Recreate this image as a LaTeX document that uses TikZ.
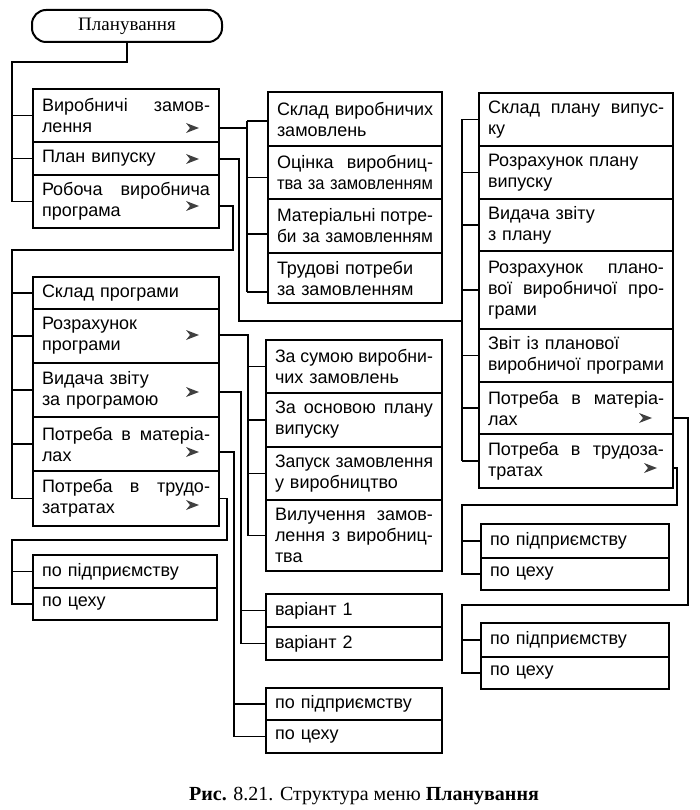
\documentclass[tikz,border=0pt]{standalone}
\usepackage{fontspec}
\setmainfont{Liberation Serif}
\newfontfamily\cellfam{Liberation Sans}
\usepackage{graphicx}
\usetikzlibrary{calc}

\newsavebox\fitb
\newlength\cellwd
% justified line: words separated by \hfill; squeezed if too wide
\newcommand\jline[1]{\leavevmode\sbox\fitb{\def\hfill{\hskip.28em}#1}%
  \ifdim\wd\fitb>\cellwd\resizebox{\cellwd}{\ht\fitb}{\usebox\fitb}%
  \else\hbox to\cellwd{\def\hfill{\hskip.28em plus 1fill}#1}\fi}
% left line, squeezed if too wide
\newcommand\lline[1]{\sbox\fitb{#1}\ifdim\wd\fitb>\cellwd\resizebox{\cellwd}{\ht\fitb}{\usebox\fitb}\else\makebox[\cellwd][l]{#1}\fi}

\tikzset{
  cell/.style={draw, line width=2pt, anchor=north west, inner xsep=8pt, inner ysep=0pt,
    align=left, font=\cellfam\fontsize{18}{21}\selectfont},
  conn/.style={draw, line width=1.9pt, line join=miter},
  submark/.pic={\fill[black!75] (-6,-5) -- (7,0) -- (-6,5) -- (-2,0) -- cycle;}
}
% name, x, ytop, ybot, width, text
\newcommand\mkcell[6]{%
  \pgfmathsetmacro\cellh{#4-#3}%
  \pgfmathsetmacro\celltw{#5-18}%
  \setlength\cellwd{\celltw pt}%
  \node[cell, minimum width=#5pt, minimum height=\cellh pt, text width=\celltw pt] (#1) at (#2,#3) {#6};}

\begin{document}
\begin{tikzpicture}[x=1pt,y=-1pt]
\useasboundingbox (0,0) rectangle (700,810);

% top
\node[draw, line width=2pt, rounded corners=14pt, minimum width=190pt, minimum height=32pt,
  font=\fontsize{19}{21}\selectfont] (top) at (127,26) {Планування};

% box 1
\mkcell{b1r1}{32}{88}{141}{186}{\jline{Виробничі\hfill замов-}\\\lline{лення}}
\mkcell{b1r2}{32}{141}{174}{186}{\lline{План випуску}}
\mkcell{b1r3}{32}{174}{227}{186}{\jline{Робоча\hfill виробнича}\\\lline{програма}}

% box 2
\mkcell{b2r1}{267}{91}{145}{174}{\lline{Склад виробничих}\\\lline{замовлень}}
\mkcell{b2r2}{267}{145}{198}{174}{\jline{Оцінка\hfill виробниц-}\\\lline{тва за замовленням}}
\mkcell{b2r3}{267}{198}{252}{174}{\jline{Матеріальні\hfill потре-}\\\lline{би за замовленням}}
\mkcell{b2r4}{267}{252}{302}{174}{\lline{Трудові потреби}\\\lline{за замовленням}}

% box 3
\mkcell{b3r1}{478}{92}{145}{194}{\jline{Склад\hfill плану\hfill випус-}\\\lline{ку}}
\mkcell{b3r2}{478}{145}{198}{194}{\lline{Розрахунок плану}\\\lline{випуску}}
\mkcell{b3r3}{478}{198}{250}{194}{\lline{Видача звіту}\\\lline{з плану}}
\mkcell{b3r4}{478}{250}{328}{194}{\jline{Розрахунок\hfill плано-}\\\jline{вої\hfill виробничої\hfill про-}\\\lline{грами}}
\mkcell{b3r5}{478}{328}{381}{194}{\lline{Звіт із планової}\\\lline{виробничої програми}}
\mkcell{b3r6}{478}{381}{433}{194}{\jline{Потреба\hfill в\hfill матеріа-}\\\lline{лах}}
\mkcell{b3r7}{478}{433}{487}{194}{\jline{Потреба\hfill в\hfill трудоза-}\\\lline{тратах}}

% box 4
\mkcell{b4r1}{32}{276}{308}{186}{\lline{Склад програми}}
\mkcell{b4r2}{32}{308}{362}{186}{\lline{Розрахунок}\\\lline{програми}}
\mkcell{b4r3}{32}{362}{416}{186}{\lline{Видача звіту}\\\lline{за програмою}}
\mkcell{b4r4}{32}{416}{470}{186}{\jline{Потреба\hfill в\hfill матеріа-}\\\lline{лах}}
\mkcell{b4r5}{32}{470}{525}{186}{\jline{Потреба\hfill в\hfill трудо-}\\\lline{затратах}}

% box 5
\mkcell{b5r1}{265}{339}{392}{176}{\jline{За\hfill сумою\hfill виробни-}\\\lline{чих замовлень}}
\mkcell{b5r2}{265}{392}{446}{176}{\jline{За\hfill основою\hfill плану}\\\lline{випуску}}
\mkcell{b5r3}{265}{446}{499}{176}{\lline{Запуск замовлення}\\\lline{у виробництво}}
\mkcell{b5r4}{265}{499}{570}{176}{\jline{Вилучення\hfill замов-}\\\jline{лення\hfill з\hfill виробниц-}\\\lline{тва}}

% box 6
\mkcell{b6r1}{32}{554}{587}{184}{\lline{по підприємству}}
\mkcell{b6r2}{32}{587}{619}{184}{\lline{по цеху}}
% box 7
\mkcell{b7r1}{265}{593}{626}{176}{\lline{варіант 1}}
\mkcell{b7r2}{265}{626}{659}{176}{\lline{варіант 2}}
% box 8
\mkcell{b8r1}{265}{687}{719}{176}{\lline{по підприємству}}
\mkcell{b8r2}{265}{719}{752}{176}{\lline{по цеху}}
% box 9
\mkcell{b9r1}{480}{523}{557}{188}{\lline{по підприємству}}
\mkcell{b9r2}{480}{557}{589}{188}{\lline{по цеху}}
% box 10
\mkcell{b10r1}{480}{622}{656}{188}{\lline{по підприємству}}
\mkcell{b10r2}{480}{656}{688}{188}{\lline{по цеху}}

% submenu marks
\coordinate (m11) at (192,128);
\coordinate (m12) at (192,159);
\coordinate (m13) at (192,206);
\coordinate (m42) at (192,335);
\coordinate (m43) at (192,392);
\coordinate (m44) at (192,452);
\coordinate (m45) at (192,505);
\coordinate (m36) at (645,418);
\coordinate (m37) at (650,468);
\foreach \m in {m11,m12,m13,m42,m43,m44,m45,m36,m37} {\pic at (\m) {submark};}

% bracket x positions and joints
\coordinate (k1) at (12,62);
\coordinate (k2) at (247,0);
\coordinate (k3) at (462,0);
\coordinate (k4) at (12,0);
\coordinate (k5) at (248,0);
\coordinate (k7) at (241,0);
\coordinate (k8) at (234,0);
\coordinate (j2) at (239,321);
\coordinate (j3) at (233,250);
\coordinate (j6) at (227,540);
\coordinate (j9) at (677,505);
\coordinate (j10) at (688,605);

% top -> box 1
\draw[conn] (top.south) |- (k1) |- (b1r3.west);
\draw[conn] (k1 |- b1r1.west) -- (b1r1.west);
\draw[conn] (k1 |- b1r2.west) -- (b1r2.west);

% box1 r1 -> box 2
\coordinate (p21) at ([yshift=-2pt]b2r1.west);
\coordinate (p22) at ([yshift=-5pt]b2r2.west);
\coordinate (p23) at ([yshift=-8pt]b2r3.west);
\coordinate (p24) at ([yshift=-14pt]b2r4.west);
\draw[conn] (b1r1.east |- m11) -- (k2 |- m11);
\draw[conn] (k2 |- p21) -- (k2 |- p24);
\foreach \p in {p21,p22,p23,p24} {\draw[conn] (k2 |- \p) -- (\p);}

% box1 r2 -> box 3
\draw[conn] (b1r2.east |- m12) -| (j2) -- (k3 |- j2);
\draw[conn] (k3 |- b3r1.west) -- (k3 |- b3r7.west);
\foreach \r in {1,...,7} {\draw[conn] (k3 |- b3r\r.west) -- (b3r\r.west);}

% box1 r3 -> box 4
\draw[conn] (b1r3.east |- m13) -| (j3) -| (k4 |- b4r5.west) -- (b4r5.west);
\foreach \r in {1,...,4} {\draw[conn] (k4 |- b4r\r.west) -- (b4r\r.west);}

% box4 r2 -> box 5
\draw[conn] (b4r2.east |- m42) -| (k5 |- b5r4.west) -- (b5r4.west);
\foreach \r in {1,2,3} {\draw[conn] (k5 |- b5r\r.west) -- (b5r\r.west);}

% box4 r3 -> box 7
\draw[conn] (b4r3.east |- m43) -| (k7 |- b7r2.west) -- (b7r2.west);
\draw[conn] (k7 |- b7r1.west) -- (b7r1.west);

% box4 r4 -> box 8
\draw[conn] (b4r4.east |- m44) -| (k8 |- b8r2.west) -- (b8r2.west);
\draw[conn] (k8 |- b8r1.west) -- (b8r1.west);

% box4 r5 -> box 6
\draw[conn] (b4r5.east) -| (j6) -| (k4 |- b6r2.west) -- (b6r2.west);
\draw[conn] (k4 |- b6r1.west) -- (b6r1.west);

% box3 r6 -> box 10
\draw[conn] (b3r6.east |- m36) -| (j10) -| (k3 |- b10r2.west) -- (b10r2.west);
\draw[conn] (k3 |- b10r1.west) -- (b10r1.west);

% box3 r7 -> box 9
\draw[conn] (b3r7.east |- m37) -| (j9) -| (k3 |- b9r2.west) -- (b9r2.west);
\draw[conn] (k3 |- b9r1.west) -- (b9r1.west);

% caption
\node[font=\fontsize{20}{22}\selectfont] (cap) at (364,796)
  {\textbf{Рис.} 8.21. Структура меню \textbf{Планування}};
\end{tikzpicture}
\end{document}
